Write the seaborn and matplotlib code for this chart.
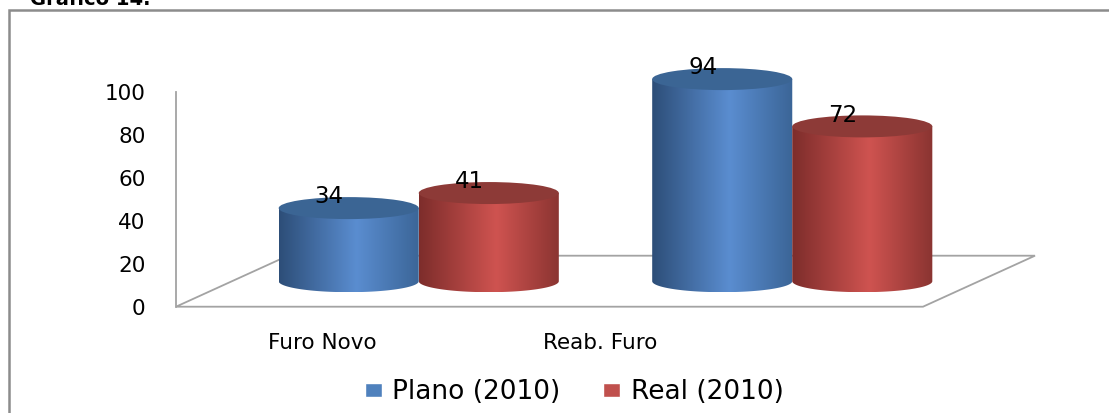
import numpy as np
import pandas as pd
import matplotlib
matplotlib.use("Agg")
import matplotlib.pyplot as plt
import seaborn as sns
from matplotlib.patches import Ellipse, Rectangle, PathPatch, Patch
from matplotlib.path import Path
from matplotlib.colors import LinearSegmentedColormap

# ---------------- data ----------------
categories = ["Furo Novo", "Reab. Furo"]
series = ["Plano (2010)", "Real (2010)"]
plano = [34, 94]
real = [41, 72]
y_ticks = [0, 20, 40, 60, 80, 100]
title_text = "Gráfico 14."

# ---------------- style ----------------
W, H = 1109, 413
sns.set_theme(style="white")
plt.rcParams['font.family'] = ['DejaVu Sans']
plt.rcParams['text.color'] = 'black'

BLUE = "#4F81BD"
RED = "#C0504D"
blue_cmap = LinearSegmentedColormap.from_list(
    "b", [(0, "#2d4e78"), (0.55, "#5a8dd0"), (1, "#3b6597")])
red_cmap = LinearSegmentedColormap.from_list(
    "r", [(0, "#7d2d2b"), (0.55, "#cf5350"), (1, "#8a3431")])
TOP = {BLUE: "#3b6594", RED: "#8d3a37"}
CMAPS = {BLUE: blue_cmap, RED: red_cmap}
LINE_GREY = "#a3a3a3"

df = pd.DataFrame({
    "category": categories * 2,
    "series": [series[0]] * len(categories) + [series[1]] * len(categories),
    "value": plano + real,
})

fig = plt.figure(figsize=(W / 100, H / 100), dpi=100)


def box(x0, y0, x1, y1):
    """pixel box (top-left origin) -> figure fraction rect"""
    return [x0 / W, 1 - y1 / H, (x1 - x0) / W, (y1 - y0) / H]


# front plane (value axis + floor)
FX0, FX1, FY_TOP, FY_ZERO = 176, 923, 91.7, 306.7
DEPTH = (112, 51)          # pixel depth of the floor
ncat = len(categories)

axF = fig.add_axes(box(FX0, FY_TOP, FX1, FY_ZERO))
axF.set_facecolor("none")
axF.set_xlim(-0.5, ncat - 0.5)
axF.set_ylim(0, 100)
axF.set_yticks(y_ticks)
axF.set_xticks([])
axF.tick_params(axis="y", length=0, pad=22, labelsize=15.5, labelcolor="black")
for s in ["top", "right", "bottom"]:
    axF.spines[s].set_visible(False)
axF.spines["left"].set_color(LINE_GREY)
axF.spines["left"].set_linewidth(1.3)

# floor parallelogram
px_per_x = (FX1 - FX0) / ncat
px_per_y = (FY_ZERO - FY_TOP) / 100
dx = DEPTH[0] / px_per_x
dy = DEPTH[1] / px_per_y
xa, xb = -0.5, ncat - 0.5
floor_x = [xa + dx, xa, xb, xb + dx, xa + dx]
floor_y = [dy, 0, 0, dy, dy]
axF.plot(floor_x, floor_y, color=LINE_GREY, lw=1.3, clip_on=False,
         solid_joinstyle="miter")

# bar plane (half depth)
hx, hy = DEPTH[0] / 2, DEPTH[1] / 2
axB = fig.add_axes(box(FX0 + hx, FY_TOP - hy, FX1 + hx, FY_ZERO - hy))
axB.set_facecolor("none")
sns.barplot(data=df, x="category", y="value", hue="series",
            palette=[BLUE, RED], saturation=1, width=0.75, ax=axB,
            legend=False)

E = 11 / px_per_y  # ellipse half-height in value units
grad = np.linspace(0, 1, 256)[np.newaxis, :]
z = 3
for cont, col in zip(axB.containers, [BLUE, RED]):
    for patch in cont.patches:
        x0, w = patch.get_x(), patch.get_width()
        base = patch.get_y()
        top = base + patch.get_height()
        patch.set_visible(False)
        xc, x1 = x0 + w / 2, x0 + w
        t = np.linspace(np.pi, 2 * np.pi, 80)
        verts = ([(x0, top)] + list(zip(xc + w / 2 * np.cos(t), base + E * np.sin(t)))
                 + [(x1, top), (x0, top)])
        codes = [Path.MOVETO] + [Path.LINETO] * (len(verts) - 2) + [Path.CLOSEPOLY]
        clip = PathPatch(Path(verts, codes), transform=axB.transData)
        im = axB.imshow(grad, extent=(x0, x1, base - E, top + E), aspect="auto",
                        cmap=CMAPS[col], zorder=z, interpolation="bilinear")
        im.set_clip_path(clip)
        im.set_clip_box(fig.bbox)
        axB.add_patch(Ellipse((xc, top), w, 2 * E, facecolor=TOP[col],
                              edgecolor="none", zorder=z + 0.5))
        axB.annotate(f"{patch.get_height():g}", xy=(xc, top), xytext=(-14, 8),
                     textcoords="offset points", ha="center", va="center",
                     fontsize=16.5, color="black", zorder=20)
        z += 1

axB.set_xlim(-0.5, ncat - 0.5)
axB.set_ylim(0, 100)
axB.set_xticks([])
axB.set_yticks([])
axB.set_xlabel("")
axB.set_ylabel("")
for s in axB.spines.values():
    s.set_visible(False)

# category labels plane
axL = fig.add_axes(box(183, FY_TOP, 739, FY_ZERO))
axL.set_facecolor("none")
axL.set_xlim(-0.5, ncat - 0.5)
axL.set_ylim(0, 100)
axL.set_xticks(range(ncat), categories)
axL.set_yticks([])
axL.tick_params(axis="x", length=0, pad=19, labelsize=15.5, labelcolor="black")
for s in axL.spines.values():
    s.set_visible(False)

# legend
fig.legend(handles=[Patch(facecolor=BLUE), Patch(facecolor=RED)], labels=series,
           loc="center", bbox_to_anchor=(574 / W, 1 - 392 / H), ncol=2,
           frameon=False, fontsize=19, handlelength=0.65, handleheight=0.45,
           handletextpad=0.4, columnspacing=1.6, labelcolor="black")

# outer frame and cut-off title
fig.add_artist(Rectangle((9 / W, -0.2), 1.5, 1.2 - 10 / H, transform=fig.transFigure,
                         fill=False, edgecolor="#8c8c8c", lw=1.8))
fig.text(30 / W, 1 - 5 / H, title_text, fontsize=14, fontweight="bold",
         va="baseline", ha="left", color="black")

fig.savefig("out.png", dpi=100)
